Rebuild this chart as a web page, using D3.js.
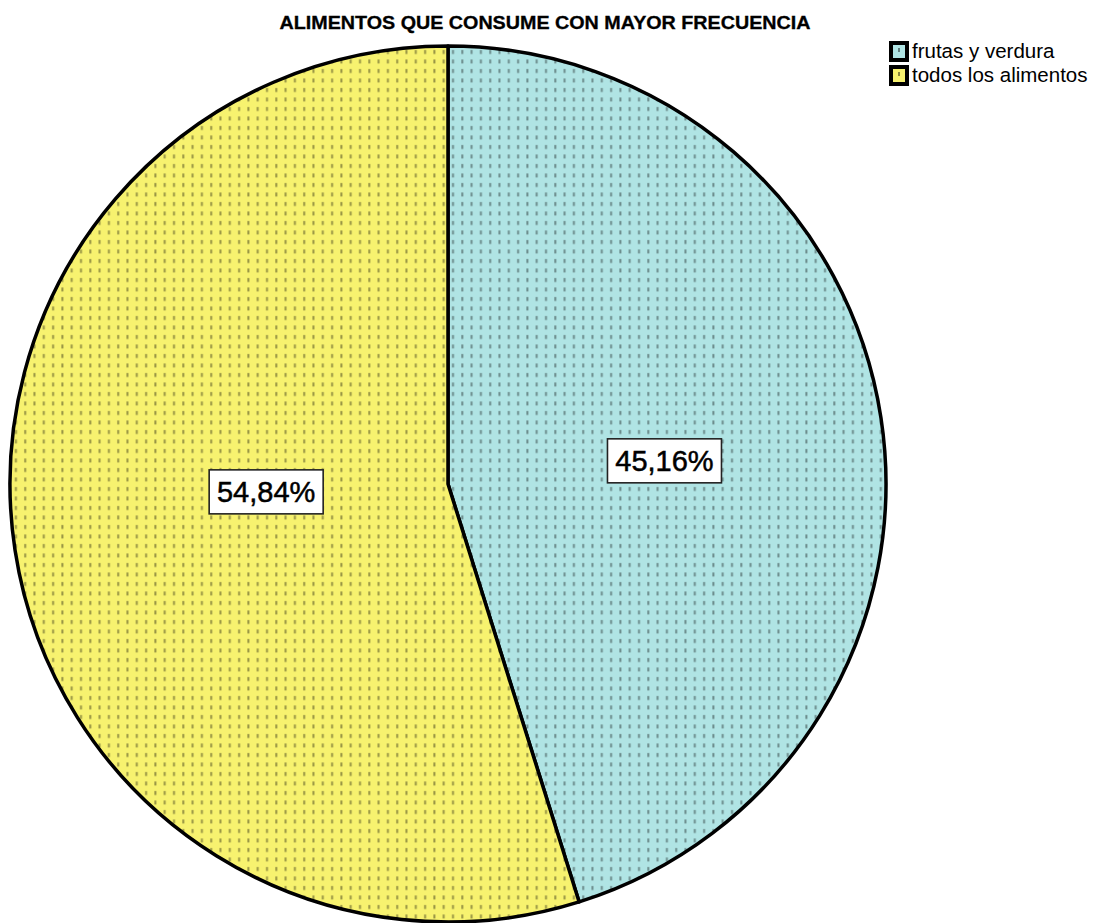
<!DOCTYPE html>
<html>
<head>
<meta charset="utf-8">
<script src="https://cdn.jsdelivr.net/npm/d3@7/dist/d3.min.js"></script>
<style>
  html, body { margin: 0; padding: 0; background: #ffffff; }
  svg { display: block; }
</style>
</head>
<body>
<svg id="chart" width="1094" height="923"></svg>
<script>
// Data
const chartTitle = "ALIMENTOS QUE CONSUME CON MAYOR FRECUENCIA";
const categories = ["frutas y verdura", "todos los alimentos"];
const percentages = [45.16, 54.84];
const sliceColors = ["#b0e4e4", "#f7f26f"];

const svg = d3.select("#chart");

// Layout
const cx = 448, cy = 484, radius = 438;

// Dotted fill patterns, one per slice colour
const defs = svg.append("defs");
sliceColors.forEach((c, i) => {
  const p = defs.append("pattern")
    .attr("id", "dots" + i)
    .attr("patternUnits", "userSpaceOnUse")
    .attr("width", 9.3)
    .attr("height", 9.5);
  p.append("rect").attr("width", 9.3).attr("height", 9.5).attr("fill", c);
  p.append("rect").attr("x", 4).attr("y", 3).attr("width", 2).attr("height", 4)
    .attr("fill", "#000").attr("fill-opacity", 0.38);
});

// Title
svg.append("text")
  .attr("x", 545)
  .attr("y", 29)
  .attr("text-anchor", "middle")
  .attr("font-family", "'Liberation Sans Narrow', 'Liberation Sans', Arial, sans-serif")
  .attr("font-weight", "bold")
  .attr("font-size", 18)
  .attr("textLength", 531)
  .attr("lengthAdjust", "spacingAndGlyphs")
  .attr("fill", "#000")
  .attr("stroke", "#000")
  .attr("stroke-width", 0.3)
  .text(chartTitle);

// Pie
const pie = d3.pie().sort(null).value(d => d)
  .startAngle(0).endAngle(2 * Math.PI);
const arcs = pie(percentages);
const arc = d3.arc().innerRadius(0).outerRadius(radius);

const g = svg.append("g").attr("transform", `translate(${cx},${cy})`);
g.selectAll("path.slice")
  .data(arcs)
  .join("path")
  .attr("class", "slice")
  .attr("d", arc)
  .attr("fill", (d, i) => `url(#dots${i})`)
  .attr("stroke", "#000")
  .attr("stroke-width", 3.5)
  .attr("stroke-linejoin", "round");

// Value labels: placed along each slice's mid angle
const labelRadius = [0.5, 0.42];
const labelShift = [10, -20];
const fmt = v => d3.format(".2f")(v).replace(".", ",") + "%";
arcs.forEach((d, i) => {
  const a = (d.startAngle + d.endAngle) / 2;
  const r = radius * labelRadius[i];
  const x = Math.sin(a) * r;
  const y = -Math.cos(a) * r + labelShift[i];
  const lg = g.append("g").attr("transform", `translate(${x},${y})`);
  lg.append("rect")
    .attr("x", -57)
    .attr("y", -22)
    .attr("width", 114)
    .attr("height", 44)
    .attr("fill", "#fff")
    .attr("stroke", "#222")
    .attr("stroke-width", 1.6);
  lg.append("text")
    .attr("text-anchor", "middle")
    .attr("dy", "0.36em")
    .attr("font-family", "'Liberation Sans', Arial, sans-serif")
    .attr("font-size", 29)
    .attr("fill", "#000")
    .attr("stroke", "#000")
    .attr("stroke-width", 0.5)
    .text(fmt(d.data));
});

// Legend
const legend = svg.append("g").attr("transform", "translate(889,41)");
categories.forEach((name, i) => {
  const row = legend.append("g").attr("transform", `translate(0,${i * 24})`);
  row.append("rect")
    .attr("x", 2).attr("y", 2).attr("width", 16).attr("height", 17)
    .attr("fill", sliceColors[i])
    .attr("stroke", "#000").attr("stroke-width", 4);
  row.append("rect")
    .attr("x", 9).attr("y", 7).attr("width", 2).attr("height", 4)
    .attr("fill", "#000").attr("fill-opacity", 0.45);
  row.append("text")
    .attr("x", 23)
    .attr("y", 17)
    .attr("font-family", "'Liberation Sans', Arial, sans-serif")
    .attr("font-size", 20.5)
    .attr("fill", "#000")
    .text(name);
});
</script>
</body>
</html>
